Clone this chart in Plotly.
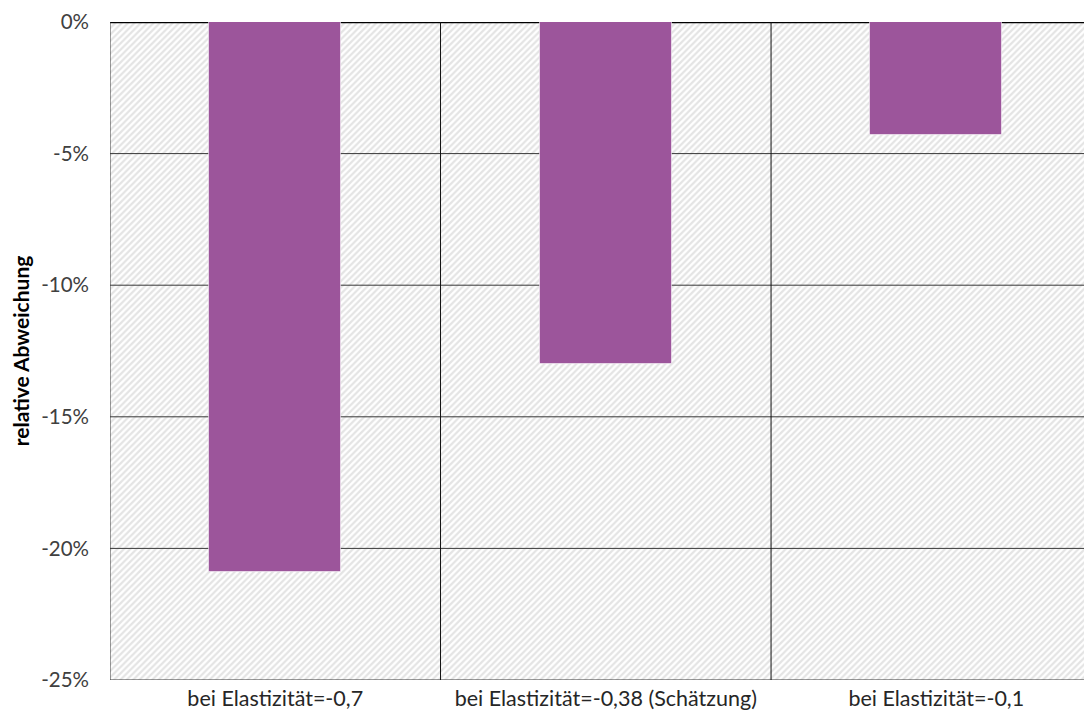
import plotly.graph_objects as go

categories = ["bei Elastizität=-0,7", "bei Elastizität=-0,38 (Schätzung)", "bei Elastizität=-0,1"]
values = [-20.9, -13.0, -4.3]
y_ticks = [0, -5, -10, -15, -20, -25]
y_ticklabels = ["0%", "-5%", "-10%", "-15%", "-20%", "-25%"]
y_title = "relative Abweichung"

n = len(categories)
xpos = list(range(n))
ymin, ymax = min(y_ticks), max(y_ticks)
xlo, xhi = -0.5, n - 0.5 - 0.029

FONT = "Lato"
fig = go.Figure()

# hatched plot background
fig.add_trace(go.Bar(
    x=[(n - 1) / 2], y=[ymin], width=[n + 1], base=[0],
    marker=dict(color="white", line=dict(width=0),
                pattern=dict(shape="/", fgcolor="#c9c9c9", bgcolor="white", size=4.5, solidity=0.5)),
    hoverinfo="skip", showlegend=False, xaxis="x", yaxis="y"))

# horizontal gridlines
for t in y_ticks:
    if t == ymax:
        col, w = "#000000", 2.5
    else:
        col, w = "#383838", 1
    fig.add_trace(go.Scatter(x=[xlo, xhi + 1], y=[t, t], mode="lines",
                             line=dict(color=col, width=w), hoverinfo="skip",
                             showlegend=False, cliponaxis=False, xaxis="x", yaxis="y"))
# vertical category separators
for b in [i - 0.5 for i in range(n + 1)]:
    fig.add_trace(go.Scatter(x=[b, b], y=[ymin, ymax], mode="lines",
                             line=dict(color="#111111" if b > xlo else "#383838", width=1),
                             hoverinfo="skip", showlegend=False, cliponaxis=False,
                             xaxis="x", yaxis="y"))

# data bars on overlay axes (drawn above gridlines)
fig.add_trace(go.Bar(
    x=xpos, y=values, width=0.4,
    marker=dict(color="#9c559b", line=dict(color="rgba(255,255,255,0.55)", width=1)),
    showlegend=False, xaxis="x2", yaxis="y2"))

# page body has an 8px default margin; compensate so the plot lands where the reference has it
fig.update_layout(
    width=1084, height=716,
    margin=dict(l=102, r=0, t=14, b=44, autoexpand=False),
    paper_bgcolor="white", plot_bgcolor="white",
    barmode="overlay", bargap=0,
    font=dict(family=FONT, size=20.5, color="#404040"),
    xaxis=dict(range=[xlo, xhi], tickvals=xpos, ticktext=categories,
               showgrid=False, zeroline=False, showline=False, ticks="",
               ticklabelstandoff=3, ticklabeloverflow="allow",
               tickfont=dict(size=21.5, color="#262626"), fixedrange=True),
    yaxis=dict(range=[ymin, ymax], tickvals=y_ticks, ticktext=y_ticklabels,
               showgrid=False, zeroline=False, showline=False, ticks="",
               ticklabelstandoff=20, ticklabeloverflow="allow",
               tickfont=dict(size=20.5, color="#404040"),
               title=dict(text="<b>" + y_title + "</b>", font=dict(size=21, color="#000000"),
                          standoff=10)),
    xaxis2=dict(range=[xlo, xhi], overlaying="x", visible=False, fixedrange=True),
    yaxis2=dict(range=[ymin, ymax], overlaying="y", visible=False),
)

fig.write_html("out.html")
